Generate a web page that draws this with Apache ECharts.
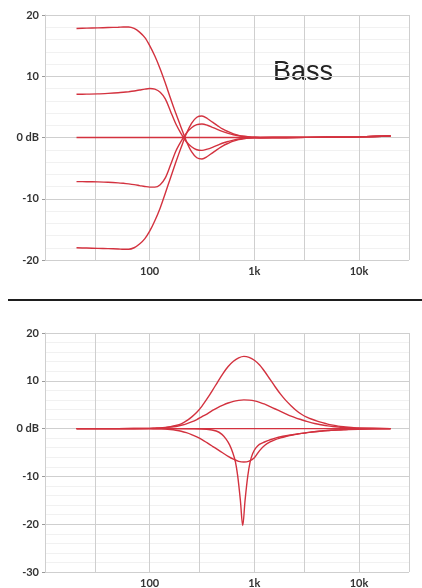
<!DOCTYPE html>
<html><head><meta charset="utf-8">
<script src="https://cdn.jsdelivr.net/npm/echarts@6/dist/echarts.min.js"></script>
<style>html,body{margin:0;padding:0;background:#fff}#c{width:422px;height:588px}</style>
</head><body><div id="c"></div><script>
// ---------- Top chart (Bass) ----------
const bassFreq = [20, 25, 32, 40, 50, 56, 63, 71, 80, 90, 100, 112, 126, 141, 158, 178, 200, 224, 251, 282, 316, 355, 398, 447, 501, 562, 631, 708, 794, 891, 1000, 1500, 2000, 5000, 10000, 20000];
const bassPlus18 = [17.8, 17.85, 17.9, 17.95, 18.0, 18.05, 18.05, 17.8, 17.2, 16.3, 15.0, 13.3, 11.2, 8.9, 6.4, 3.9, 1.6, -0.6, -2.3, -3.3, -3.5, -3.1, -2.5, -1.9, -1.35, -0.95, -0.6, -0.35, -0.2, -0.1, -0.05, 0, 0, 0.05, 0.1, 0.25];
const bassPlus7 = [7.05, 7.08, 7.12, 7.2, 7.3, 7.38, 7.48, 7.6, 7.75, 7.9, 8.0, 7.9, 7.4, 6.3, 4.3, 2.2, 0.6, -0.7, -1.5, -2.0, -2.1, -1.9, -1.6, -1.25, -0.9, -0.65, -0.42, -0.25, -0.14, -0.08, -0.04, 0, 0, 0.05, 0.1, 0.25];
const bassMinus7 = [-7.2, -7.22, -7.25, -7.3, -7.4, -7.48, -7.58, -7.7, -7.85, -8.0, -8.1, -8.1, -7.7, -6.6, -4.5, -2.2, -0.6, 0.7, 1.6, 2.1, 2.2, 2.0, 1.65, 1.3, 0.95, 0.68, 0.45, 0.28, 0.16, 0.09, 0.05, 0, 0, 0.05, 0.1, 0.25];
const bassMinus18 = [-18.0, -18.05, -18.1, -18.15, -18.2, -18.25, -18.25, -18.0, -17.4, -16.5, -15.3, -13.6, -11.5, -9.1, -6.6, -4.0, -1.6, 0.6, 2.3, 3.3, 3.5, 3.1, 2.5, 1.9, 1.35, 0.95, 0.6, 0.35, 0.2, 0.1, 0.05, 0, 0, 0.05, 0.1, 0.25];
const bassFlatFreq = [20, 1000, 2000, 5000, 10000, 20000];
const bassFlat = [0, 0, 0, 0.05, 0.1, 0.25];

// ---------- Bottom chart (Mid) ----------
const midFreq = [20, 50, 100, 112, 126, 141, 158, 178, 200, 224, 251, 282, 316, 355, 398, 447, 501, 562, 631, 708, 794, 891, 1000, 1122, 1259, 1413, 1585, 1778, 1995, 2239, 2512, 2818, 3162, 3548, 3981, 4467, 5012, 5623, 6310, 7079, 7943, 8913, 10000, 20000];
const midPlus15 = [0, 0, 0.05, 0.1, 0.15, 0.25, 0.4, 0.65, 1.0, 1.6, 2.4, 3.4, 4.7, 6.3, 8.0, 9.8, 11.5, 13.0, 14.1, 14.8, 15.1, 14.9, 14.3, 13.3, 11.9, 10.3, 8.7, 7.2, 5.9, 4.8, 3.8, 3.0, 2.4, 1.95, 1.58, 1.25, 0.95, 0.72, 0.52, 0.38, 0.27, 0.18, 0.12, 0];
const midPlus6 = [0, 0, 0.05, 0.08, 0.12, 0.2, 0.3, 0.45, 0.7, 1.0, 1.4, 1.9, 2.5, 3.1, 3.8, 4.4, 4.9, 5.35, 5.7, 5.9, 6.0, 5.95, 5.8, 5.5, 5.1, 4.6, 4.1, 3.6, 3.1, 2.6, 2.2, 1.85, 1.5, 1.2, 0.95, 0.75, 0.58, 0.45, 0.34, 0.25, 0.18, 0.12, 0.08, 0];
const midMinus6 = [0, 0, 0, -0.03, -0.06, -0.1, -0.2, -0.35, -0.55, -0.85, -1.25, -1.75, -2.3, -3.0, -3.7, -4.4, -5.1, -5.8, -6.4, -6.85, -7.0, -6.8, -6.1, -4.6, -3.5, -2.8, -2.3, -1.95, -1.65, -1.4, -1.2, -1.0, -0.85, -0.72, -0.6, -0.5, -0.4, -0.33, -0.26, -0.2, -0.15, -0.1, -0.07, 0];
const notchFreq = [20, 100, 250, 350, 432, 490, 537, 580, 621, 660, 693, 735, 774, 815, 864, 910, 964, 1030, 1117, 1250, 1390, 1700, 2301, 3300, 5000, 8000, 12000, 20000];
const midNotch = [0, 0, -0.05, -0.15, -0.5, -1.2, -2.2, -3.4, -5.0, -7.0, -9.9, -15, -20.3, -15, -10, -7.0, -5.2, -4.1, -3.3, -2.8, -2.4, -1.8, -1.3, -0.8, -0.4, -0.2, -0.08, 0];
const midFlatFreq = [20, 20000];
const midFlat = [0, 0];

// ---------- Axis ticks ----------
const yTicksTop = [-20, -10, 0, 10, 20];
const yTicksBottom = [-30, -20, -10, 0, 10, 20];
const extraGridFreq = [30, 300, 3000, 30000];
const xLabelMap = {2: '100', 3: '1k', 4: '10k'};
const title = 'Bass';

const RED = '#d3323f';
const GRID = '#cfcfcf';
const zip = (xs, ys) => xs.map((x, i) => [x, ys[i]]);

function xAxisFor(gi) {
  return {
    type: 'log', logBase: 10, gridIndex: gi, min: 10, max: 30000,
    axisLine: {show: true, lineStyle: {color: GRID, width: 1}},
    axisTick: {show: false},
    splitLine: {show: true, lineStyle: {color: GRID, width: 1}},
    axisLabel: {
      show: true, margin: 6, fontSize: 11, color: '#333', fontFamily: 'Lato', fontWeight: 'bold',
      showMinLabel: false, showMaxLabel: false,
      formatter: v => {
        const e = Math.log10(v);
        const r = Math.round(e);
        if (Math.abs(e - r) > 0.01) return '';
        return xLabelMap[r] || '';
      }
    }
  };
}
function yAxisFor(gi, ticks) {
  return {
    type: 'value', gridIndex: gi, min: ticks[0], max: ticks[ticks.length - 1], interval: 10,
    axisLine: {show: true, lineStyle: {color: GRID}},
    axisTick: {show: true, length: 3, lineStyle: {color: '#999'}},
    splitLine: {show: true, lineStyle: {color: GRID, width: 1}},
    minorTick: {show: false, splitNumber: 5},
    minorSplitLine: {show: true, lineStyle: {color: '#f1f1f1', width: 1}},
    axisLabel: {
      margin: 6, fontSize: 11, color: '#333', fontFamily: 'Lato', fontWeight: 'bold',
      formatter: v => (v === 0 ? '0 dB' : String(v))
    }
  };
}
function curve(gi, xs, ys, sm) {
  return {
    type: 'line', xAxisIndex: gi, yAxisIndex: gi, data: zip(xs, ys),
    showSymbol: false, symbol: 'none', smooth: sm, z: 5,
    lineStyle: {color: RED, width: 1.4}, silent: true
  };
}
function gridLines(gi) {
  return {
    type: 'line', xAxisIndex: gi, yAxisIndex: gi, data: [[1000, 0]], symbol: 'none',
    lineStyle: {opacity: 0}, z: 1, silent: true,
    markLine: {
      silent: true, symbol: 'none', label: {show: false}, animation: false,
      lineStyle: {color: GRID, type: 'solid', width: 1},
      data: extraGridFreq.map(f => ({xAxis: f}))
    }
  };
}

const chart = echarts.init(document.getElementById('c'));
chart.setOption({
  animation: false,
  backgroundColor: '#fff',
  grid: [
    {left: 45, right: 13, top: 15, height: 245, outerBoundsMode: 'none', containLabel: false},
    {left: 45, right: 13, top: 333, height: 239, outerBoundsMode: 'none', containLabel: false}
  ],
  xAxis: [xAxisFor(0), xAxisFor(1)],
  yAxis: [yAxisFor(0, yTicksTop), yAxisFor(1, yTicksBottom)],
  graphic: [
    {type: 'text', left: 273, top: 59, style: {text: title, fontSize: 27, fontFamily: 'Liberation Sans, Arial', fill: '#222'}},
    {type: 'rect', shape: {x: 8, y: 299, width: 414, height: 2}, style: {fill: '#1e1e1e'}}
  ],
  series: [
    gridLines(0), gridLines(1),
    curve(0, bassFlatFreq, bassFlat, 0.3),
    curve(0, bassFreq, bassPlus18, 0.3),
    curve(0, bassFreq, bassPlus7, 0.3),
    curve(0, bassFreq, bassMinus7, 0.3),
    curve(0, bassFreq, bassMinus18, 0.3),
    curve(1, midFlatFreq, midFlat, 0.3),
    curve(1, midFreq, midPlus15, 0.3),
    curve(1, midFreq, midPlus6, 0.3),
    curve(1, midFreq, midMinus6, 0.3),
    curve(1, notchFreq, midNotch, 0.35)
  ]
});
</script></body></html>
